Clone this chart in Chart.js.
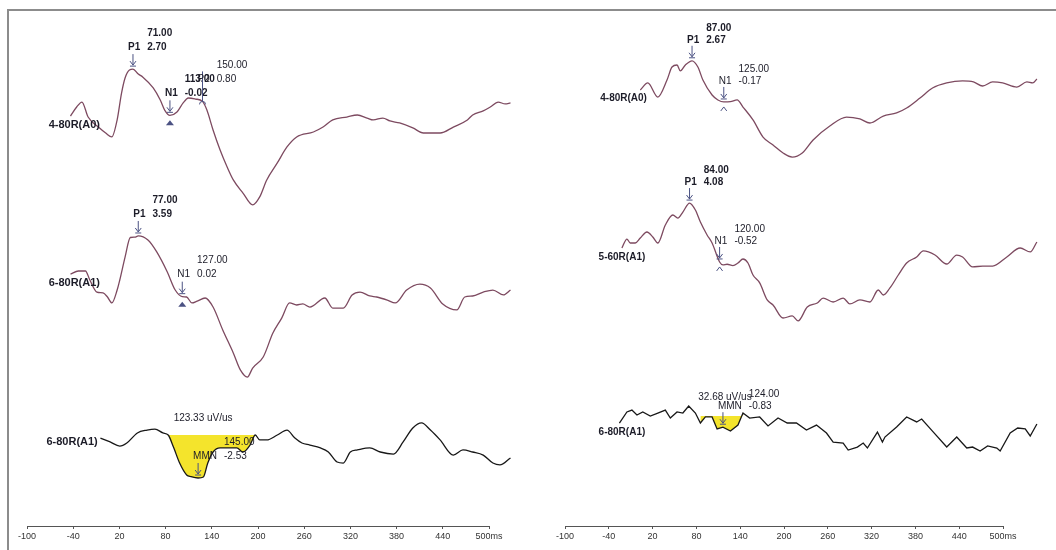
<!DOCTYPE html>
<html>
<head>
<meta charset="utf-8">
<title>MMN waveforms</title>
<script src="https://cdn.jsdelivr.net/npm/chart.js@4.4.1/dist/chart.umd.min.js"></script>
<style>
  html, body { margin: 0; padding: 0; background: #ffffff; }
  #figure { position: relative; width: 1056px; height: 550px; overflow: hidden; background: #fff; }
  #figure .rule-top { position: absolute; left: 7px; top: 9px; width: 1049px; height: 2px; background: #8c8c8c; }
  #figure .rule-left { position: absolute; left: 7px; top: 9px; width: 2px; height: 541px; background: #8c8c8c; }
  #figure canvas { position: absolute; top: 0; }
  #panelA { left: 0; }
  #panelB { left: 528px; }
</style>
</head>
<body>
<div id="figure">
  <div class="rule-top"></div>
  <div class="rule-left"></div>
  <canvas id="panelA" width="528" height="550"></canvas>
  <canvas id="panelB" width="528" height="550"></canvas>
</div>
<script>
const FONT = '"Liberation Sans", Arial, sans-serif';

// ---- time axis --------------------------------------------------------
const axisTicks = [-100, -40, 20, 80, 140, 200, 260, 320, 380, 440, 500];
const axisTickLabels = ['-100', '-40', '20', '80', '140', '200', '260', '320', '380', '440', '500ms'];

// ---- panel A sweeps (latency ms / amplitude uV) -----------------------
const a1Ms = [0, 7, 13, 20, 33, 40, 47, 53, 58, 62, 67, 71, 77, 82, 94, 102, 107, 113, 121, 128, 134, 142, 150, 155, 162, 170, 178, 185, 196, 207, 215, 223, 235, 246, 257, 276, 287, 298, 314, 326, 337, 344, 355, 363, 374, 389, 401, 412, 420, 435, 451, 457, 469, 477, 486, 494, 500];
const a1Uv = [-0.06, 0.47, 0.76, -0.12, -0.76, -1.06, -1.29, -0.29, 1.29, 2.18, 2.65, 2.70, 2.41, 2.24, 1.59, 0.88, 0.29, -0.02, 0.18, 0.71, 1.00, 0.94, 0.80, 0.29, -0.88, -2.06, -3.06, -3.82, -4.59, -5.29, -4.82, -3.82, -2.82, -1.88, -1.29, -1.00, -0.71, -0.29, -0.12, 0.00, -0.18, -0.29, -0.18, -0.35, -0.47, -0.76, -1.06, -1.06, -1.06, -0.71, -0.29, 0.00, 0.24, 0.47, 0.76, 0.65, 0.71];

const a2Ms = [0, 9, 17, 22, 30, 37, 42, 47, 53, 56, 62, 68, 73, 77, 88, 98, 110, 119, 127, 132, 138, 144, 153, 162, 173, 185, 193, 201, 207, 219, 230, 240, 249, 257, 264, 272, 289, 298, 310, 320, 329, 340, 348, 360, 369, 382, 397, 409, 423, 439, 448, 457, 469, 480, 492, 500];
const a2Uv = [1.35, 1.53, 1.53, 1.00, 0.29, 0.24, 0.00, -0.35, 0.41, 1.00, 2.35, 3.50, 3.52, 3.59, 3.35, 2.65, 1.47, 0.41, 0.02, 0.00, -0.35, -0.24, -0.06, -0.59, -1.94, -3.29, -4.29, -4.71, -4.18, -3.53, -2.12, -1.24, -0.35, -0.47, -0.41, -0.59, -0.06, -0.65, -0.65, 0.12, 0.29, 0.06, 0.00, -0.18, -0.35, 0.41, 0.76, 0.53, -0.41, -0.76, 0.00, 0.06, 0.29, 0.41, 0.12, 0.41];

const a3Ms = [34, 45, 56, 64, 76, 87, 96, 105, 111, 117, 124, 132, 137, 145, 151, 156, 162, 170, 178, 189, 196, 204, 210, 215, 223, 235, 246, 255, 263, 272, 284, 293, 303, 310, 318, 326, 340, 352, 367, 378, 389, 399, 409, 420, 435, 446, 457, 469, 480, 488, 500];
const a3Uv = [-0.18, -0.41, -0.65, -0.47, 0.12, 0.29, 0.35, 0.12, 0.00, -0.71, -1.65, -2.35, -2.45, -2.53, -2.47, -1.65, -1.00, -0.76, -0.76, -0.76, -1.00, -0.59, 0.00, -0.29, -0.29, 0.00, 0.29, -0.18, -0.47, -0.59, -0.76, -1.00, -1.59, -1.65, -1.00, -0.88, -0.76, -1.00, -1.12, -0.41, 0.41, 0.71, 0.29, -0.29, -1.18, -0.88, -1.00, -1.18, -1.65, -1.76, -1.35];

// ---- panel B sweeps ----------------------------------------------------
const b1Ms = [25, 34, 46, 57, 63, 69, 73, 79, 87, 94, 100, 111, 118, 125, 133, 141, 148, 160, 172, 184, 196, 207, 219, 232, 252, 272, 288, 300, 316, 332, 344, 360, 375, 392, 411, 424, 435, 447, 459, 476, 488, 495, 500];
const b1Uv = [0.66, 1.14, 0.17, 1.34, 2.24, 2.38, 1.97, 2.38, 2.67, 2.24, 1.34, 0.31, -0.03, -0.17, -0.15, -0.03, -0.52, -1.41, -2.59, -3.14, -3.69, -3.97, -3.69, -2.79, -1.83, -1.21, -1.34, -1.62, -1.14, -0.93, -0.59, 0.10, 0.79, 1.14, 1.28, 1.21, 0.93, 1.21, 1.14, 0.86, 1.21, 1.14, 1.41];

const b2Ms = [3, 9, 13, 19, 25, 33, 40, 46, 55, 64, 70, 76, 84, 91, 97, 105, 111, 120, 124, 129, 136, 142, 148, 154, 160, 168, 177, 184, 196, 207, 214, 225, 237, 244, 256, 268, 276, 288, 300, 310, 316, 324, 334, 344, 356, 364, 378, 392, 404, 411, 423, 435, 447, 464, 480, 492, 500];
const b2Uv = [0.57, 1.27, 0.96, 0.96, 1.35, 1.82, 1.43, 0.96, 2.37, 3.15, 2.91, 3.38, 4.08, 3.54, 2.60, 1.59, 0.96, -0.52, -0.75, -0.70, -0.80, -0.60, -0.29, -0.60, -1.54, -2.16, -3.49, -3.88, -4.90, -4.74, -5.13, -4.04, -3.73, -3.34, -3.65, -3.34, -3.80, -3.49, -3.65, -2.71, -3.10, -2.55, -1.54, -0.60, -0.13, 0.34, 0.02, -0.68, 0.02, -0.13, -0.91, -0.84, -0.84, -0.13, 0.57, 0.26, 1.04];

const b3Ms = [0, 9, 15, 21, 28, 37, 46, 55, 61, 69, 76, 83, 91, 97, 103, 111, 117, 124, 133, 142, 148, 156, 168, 178, 190, 201, 212, 224, 236, 248, 256, 268, 274, 285, 292, 297, 309, 315, 318, 332, 344, 356, 362, 376, 392, 404, 416, 423, 432, 441, 452, 456, 468, 477, 486, 492, 500];
const b3Uv = [-0.52, 0.30, 0.44, 0.07, 0.30, 0.00, 0.22, 0.44, -0.15, 0.30, 0.22, 0.74, 0.22, -0.52, -0.07, -0.07, -0.96, -0.83, -1.11, -0.67, 0.22, -0.15, -0.07, -0.74, -0.15, -0.52, -0.52, -1.04, -0.67, -1.26, -1.93, -2.00, -2.52, -2.30, -2.00, -2.37, -1.19, -1.93, -1.56, -0.81, -0.07, -0.44, -0.22, -1.19, -2.30, -1.56, -2.37, -2.30, -2.59, -2.22, -2.37, -2.59, -1.26, -0.89, -0.96, -1.48, -0.59];

// ---- channel names ----------------------------------------------------
const channelsA = ['4-80R(A0)', '6-80R(A1)', '6-80R(A1)'];
const channelsB = ['4-80R(A0)', '5-60R(A1)', '6-80R(A1)'];

// ---- picked components: [sweep, component, latency ms, amplitude uV] --
const peaksA = [
  [0, 'P1', 71, 2.70], [0, 'N1', 113, -0.02], [0, 'P2', 150, 0.80],
  [1, 'P1', 77, 3.59], [1, 'N1', 127, 0.02],
  [2, 'MMN', 145, -2.53]
];
const peaksB = [
  [0, 'P1', 87, 2.67], [0, 'N1', 125, -0.17],
  [1, 'P1', 84, 4.08], [1, 'N1', 120, -0.52],
  [2, 'MMN', 124, -0.83]
];

// ---- MMN integration window (ms) and area (uV/us) ---------------------
const mmnWindowA = [111, 210];
const mmnAreaA = 123.33;
const mmnWindowB = [97, 148];
const mmnAreaB = 32.68;

// ---- drawing layout (canvas pixels) -----------------------------------
const layoutA = {
  padLeft: 27, padRight: 39,
  sweepOrigin: 70.5, pxPerMs: 0.88,
  rows: [{ zero: 115, pxPerUv: 17 }, { zero: 297, pxPerUv: 17 }, { zero: 435, pxPerUv: 17 }],
  namePos: [[33.5, -0.59], [33.5, 0.82], [31, -0.41]],
  nameSize: 11, textDy: -22, latDy: -36, areaDx: 5, areaDy: -60,
  smooth: [true, true, true],
  bold: ['0P1', '0N1', '1P1'],
  markers: { '0N1': 'tri', '1N1': 'tri', '0P2': 'arc' }
};
const layoutB = {
  padLeft: 37, padRight: 53,
  sweepOrigin: 91.4, pxPerMs: 0.835,
  rows: [{ zero: 99.5, pxPerUv: 14.5 }, { zero: 255.3, pxPerUv: 12.8 }, { zero: 416, pxPerUv: 13.5 }],
  namePos: [[33, 0.10], [31, -0.13], [31, -1.19]],
  nameSize: 10, textDy: -21, latDy: -33, areaDx: 2, areaDy: -30,
  smooth: [true, true, false],
  bold: ['0P1', '1P1'],
  markers: { '0N1': 'caret', '1N1': 'caret' }
};

const CHART_W = 528, AXIS_Y = 526;
const TRACE_COLOR = '#7d4a60';
const MMN_COLOR = '#181818';
const FILL_COLOR = '#f4e42c';
const MARK_COLOR = '#4b5283';
const TEXT_COLOR = '#1c1c28';

function points(ms, uv) {
  return ms.map((t, i) => ({ x: t, y: uv[i] }));
}

function drawArrow(ctx, x, yTop, yTip) {
  ctx.beginPath();
  ctx.moveTo(x, yTop); ctx.lineTo(x, yTip);
  ctx.moveTo(x - 3, yTip - 4); ctx.lineTo(x, yTip); ctx.lineTo(x + 3, yTip - 4);
  ctx.moveTo(x - 3, yTip + 1); ctx.lineTo(x + 3, yTip + 1);
  ctx.stroke();
}

function makeMarksPlugin(names, peaks, area, L) {
  return {
    id: 'erpMarks',
    afterDatasetsDraw(chart) {
      const ctx = chart.ctx;
      const xs = chart.scales.xt;
      ctx.save();
      // channel names
      ctx.fillStyle = TEXT_COLOR;
      ctx.textAlign = 'right';
      ctx.textBaseline = 'middle';
      ctx.font = 'bold ' + L.nameSize + 'px ' + FONT;
      names.forEach((n, i) => {
        const ys = chart.scales['y' + i];
        ctx.fillText(n, xs.getPixelForValue(L.namePos[i][0]), ys.getPixelForValue(L.namePos[i][1]));
      });
      // component picks
      peaks.forEach(([row, comp, ms, uv]) => {
        const ys = chart.scales['y' + row];
        const px = xs.getPixelForValue(ms);
        const py = ys.getPixelForValue(uv);
        const key = row + comp;
        const mk = L.markers[key];
        ctx.strokeStyle = MARK_COLOR;
        ctx.fillStyle = MARK_COLOR;
        ctx.lineWidth = 1;
        if (mk === 'arc') {
          // P2 pick: long cursor line with a cap
          ctx.beginPath();
          ctx.moveTo(px, py - 30); ctx.lineTo(px, py);
          ctx.stroke();
          ctx.beginPath();
          ctx.arc(px, py + 3, 3, Math.PI, 0);
          ctx.stroke();
        } else {
          drawArrow(ctx, px, py - 15, py - 4);
        }
        if (mk === 'tri') {
          ctx.beginPath();
          ctx.moveTo(px - 4, py + 10); ctx.lineTo(px, py + 5); ctx.lineTo(px + 4, py + 10);
          ctx.closePath(); ctx.fill();
        } else if (mk === 'caret') {
          ctx.beginPath();
          ctx.moveTo(px - 3, py + 9); ctx.lineTo(px, py + 5); ctx.lineTo(px + 3, py + 9);
          ctx.stroke();
        }
        ctx.fillStyle = TEXT_COLOR;
        ctx.textAlign = 'left';
        ctx.font = (L.bold.includes(key) ? 'bold ' : '') + '10px ' + FONT;
        const nx = px - 5;
        ctx.fillText(comp, nx, py + L.textDy);
        const vx = nx + ctx.measureText(comp).width + 7;
        ctx.fillText(uv.toFixed(2), vx, py + L.textDy);
        ctx.fillText(ms.toFixed(2), vx, py + L.latDy);
        if (comp === 'MMN') {
          ctx.textAlign = 'center';
          ctx.font = '10px ' + FONT;
          ctx.fillText(area.toFixed(2) + ' uV/us', px + L.areaDx, py + L.areaDy);
        }
      });
      ctx.restore();
    }
  };
}

function buildPanel(canvasId, sweeps, names, peaks, win, area, L) {
  const datasets = sweeps.map(([ms, uv], i) => ({
    label: names[i],
    data: points(ms, uv),
    xAxisID: 'xt',
    yAxisID: 'y' + i,
    borderColor: i === 2 ? MMN_COLOR : TRACE_COLOR,
    borderWidth: 1.3,
    pointRadius: 0,
    fill: false,
    clip: false,
    tension: 0,
    cubicInterpolationMode: L.smooth[i] ? 'monotone' : 'default',
    order: 1
  }));
  // shaded MMN window on the difference sweep
  const [dMs, dUv] = sweeps[2];
  const winPts = points(dMs, dUv).filter(p => p.x >= win[0] && p.x <= win[1]);
  datasets.push({
    label: 'MMN area',
    data: winPts,
    xAxisID: 'xt',
    yAxisID: 'y2',
    borderWidth: 0,
    borderColor: 'rgba(0,0,0,0)',
    backgroundColor: FILL_COLOR,
    pointRadius: 0,
    fill: { value: 0 },
    tension: 0,
    cubicInterpolationMode: L.smooth[2] ? 'monotone' : 'default',
    order: 2
  });

  // sweep time scale: the sweep runs a little past the printed 500 ms tick,
  // so the range is set after data limits (no user min/max => no point trimming)
  const xtMin = (L.padLeft - L.sweepOrigin) / L.pxPerMs;
  const xtMax = (CHART_W - L.padRight - L.sweepOrigin) / L.pxPerMs;

  const scales = {
    x: {
      type: 'linear',
      position: 'bottom',
      min: -100,
      max: 500,
      afterBuildTicks: ax => { ax.ticks = axisTicks.map(v => ({ value: v })); },
      afterFit: ax => { ax.height = 550 - AXIS_Y; },
      grid: { drawOnChartArea: false, drawTicks: true, tickLength: 3, color: '#555', lineWidth: 1 },
      border: { display: true, color: '#555', width: 1 },
      ticks: {
        autoSkip: false, maxRotation: 0, minRotation: 0, padding: 2,
        color: '#333', font: { family: FONT, size: 9 },
        callback: (v, i) => axisTickLabels[i]
      }
    },
    xt: {
      type: 'linear',
      display: false,
      bounds: 'data',
      afterDataLimits: ax => { ax.min = xtMin; ax.max = xtMax; }
    }
  };
  L.rows.forEach((r, i) => {
    scales['y' + i] = {
      type: 'linear',
      display: false,
      min: (r.zero - AXIS_Y) / r.pxPerUv,
      max: r.zero / r.pxPerUv
    };
  });

  return new Chart(document.getElementById(canvasId), {
    type: 'line',
    data: { datasets },
    options: {
      responsive: false,
      animation: false,
      devicePixelRatio: 1,
      events: [],
      layout: { padding: { left: L.padLeft, right: L.padRight, top: 0, bottom: 0 } },
      plugins: { legend: { display: false }, tooltip: { enabled: false } },
      scales
    },
    plugins: [makeMarksPlugin(names, peaks, area, L)]
  });
}

buildPanel('panelA', [[a1Ms, a1Uv], [a2Ms, a2Uv], [a3Ms, a3Uv]], channelsA, peaksA, mmnWindowA, mmnAreaA, layoutA);
buildPanel('panelB', [[b1Ms, b1Uv], [b2Ms, b2Uv], [b3Ms, b3Uv]], channelsB, peaksB, mmnWindowB, mmnAreaB, layoutB);
</script>
</body>
</html>
